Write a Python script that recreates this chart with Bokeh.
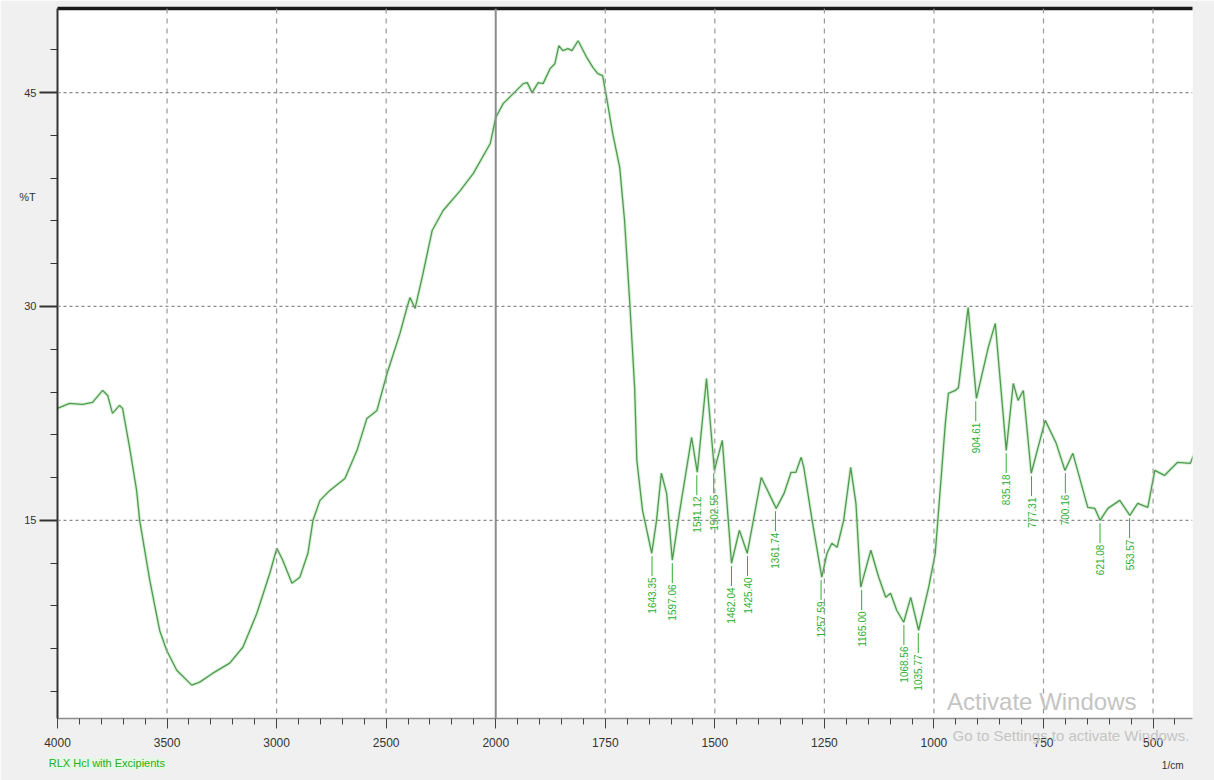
import numpy as np
from bokeh.plotting import figure
from bokeh.models import Range1d, FixedTicker, LinearAxis, Span, Label, ColumnDataSource
from bokeh.core.properties import value
from bokeh.embed import file_html
from bokeh.resources import INLINE

# ---------------- data ----------------
wavenumber = [4000, 3945, 3886, 3840, 3794, 3771, 3749, 3717, 3703, 3671, 3639, 3625, 3579, 3534,
              3502, 3456, 3387, 3351, 3291, 3214, 3154, 3090, 3031, 2999, 2972, 2930, 2894, 2857,
              2834, 2802, 2757, 2688, 2633, 2588, 2542, 2496, 2437, 2405, 2391, 2368, 2332, 2290,
              2240, 2162, 2103, 2025, 2000,
              1983, 1960, 1937, 1928, 1917, 1903, 1892, 1876, 1865, 1856, 1847, 1835, 1826, 1812,
              1792, 1778, 1767, 1756, 1747, 1733, 1717, 1706, 1694, 1683, 1678, 1665, 1644, 1633,
              1622, 1610, 1597, 1581, 1553, 1540, 1519, 1501, 1483, 1462, 1444, 1426, 1394, 1360,
              1342, 1326, 1315, 1303, 1297, 1278, 1256, 1244, 1233, 1221, 1206, 1190, 1178, 1167,
              1144, 1126, 1110, 1099, 1085, 1069, 1053, 1035, 1012, 997, 974, 967, 951, 944, 922,
              903, 876, 860, 835, 819, 808, 796, 778, 746, 721, 701, 683, 649, 633, 621, 603, 576,
              553, 535, 512, 496, 474, 444, 415, 400]
transmittance = [22.85, 23.20, 23.13, 23.27, 24.11, 23.76, 22.50, 23.06, 22.85, 20.12, 17.10, 15.00,
                 10.80, 7.29, 5.89, 4.49, 3.44, 3.65, 4.28, 4.98, 6.10, 8.48, 11.29, 13.04, 12.20,
                 10.59, 11.01, 12.69, 15.00, 16.40, 17.10, 17.94, 19.91, 22.15, 22.71, 25.30, 28.11,
                 29.93, 30.63, 29.86, 32.31, 35.33, 36.73, 38.13, 39.32, 41.43, 43.25,
                 44.23, 44.93, 45.63, 45.70, 45.00, 45.70, 45.63, 46.68, 47.03, 48.29, 47.94, 48.08,
                 47.94, 48.64, 47.45, 46.75, 46.33, 46.19, 44.65, 42.13, 39.74, 36.03, 30.21, 24.32,
                 19.21, 15.70, 12.69, 15.00, 18.30, 16.89, 12.20, 15.49, 20.82, 18.37, 24.95, 18.50,
                 20.61, 11.99, 14.30, 12.69, 18.01, 15.84, 16.89, 18.37, 18.37, 19.42, 18.72, 15.00,
                 11.01, 12.69, 13.39, 13.11, 15.00, 18.72, 16.19, 10.31, 12.90, 11.01, 9.60, 9.88,
                 8.69, 7.85, 9.60, 7.29, 10.31, 12.69, 21.80, 23.90, 24.11, 24.32, 29.93, 23.55,
                 27.13, 28.81, 19.91, 24.60, 23.41, 24.11, 18.30, 22.01, 20.40, 18.50, 19.70, 15.91,
                 15.84, 15.00, 15.84, 16.40, 15.35, 16.19, 15.91, 18.50, 18.15, 19.07, 19.00, 20.12,
                 20.0]

peak_wavenumber = [1643.35, 1597.06, 1541.12, 1502.55, 1462.04, 1425.40, 1361.74, 1257.59, 1165.00,
                   1068.56, 1035.77, 904.61, 835.18, 777.31, 700.16, 621.08, 553.57]
peak_transmittance = [12.69, 12.20, 18.37, 18.50, 11.99, 12.69, 15.84, 11.01, 10.31,
                      7.85, 7.29, 23.55, 19.91, 18.30, 18.50, 15.00, 15.35]
peak_labels = ["%.2f" % w for w in peak_wavenumber]

x_tick_values = [4000, 3500, 3000, 2500, 2000, 1750, 1500, 1250, 1000, 750, 500]
x_tick_labels = ["4000", "3500", "3000", "2500", "2000", "1750", "1500", "1250", "1000", "750", "500"]
y_tick_values = [15, 30, 45]
y_minor_values = [3, 6, 9, 12, 18, 21, 24, 27, 33, 36, 39, 42, 48]

series_name = "RLX Hcl with Excipients"
x_unit = "1/cm"
y_unit = "%T"


# split axis: 4000-2000 at 500 per unit, 2000-400 at 250 per unit
def to_u(w):
    w = np.asarray(w, dtype=float)
    return np.where(w >= 2000, (4000.0 - w) / 500.0, 4.0 + (2000.0 - w) / 250.0)


FONT = "Liberation Sans Narrow, Liberation Sans, Arial, sans-serif"
LINE = "#4f9a4f"
GREEN = "#2fae2f"

p = figure(width=1214, height=780, output_backend="svg", toolbar_location=None,
           x_range=Range1d(0, 10.36), y_range=Range1d(1.1, 50.9),
           min_border_left=57, min_border_right=14, min_border_top=8, min_border_bottom=62,
           x_axis_type=None, y_axis_type=None)
p.border_fill_color = "#f0f0f0"
p.background_fill_color = "white"
p.outline_line_color = None

# bottom axis
xmaj = [float(v) for v in to_u(x_tick_values)]
xminor = [round(v, 2) for v in np.arange(0, 10.37, 0.2) if min(abs(v - m) for m in xmaj) > 1e-6]
xaxis = LinearAxis(ticker=FixedTicker(ticks=xmaj, minor_ticks=xminor))
xaxis.major_label_overrides = {m: t for m, t in zip(xmaj, x_tick_labels)}
xaxis.axis_line_color = "#8a8a8a"
xaxis.axis_line_width = 1.5
xaxis.major_tick_out = 10
xaxis.major_tick_in = 0
xaxis.minor_tick_out = 6
xaxis.minor_tick_in = 0
xaxis.major_tick_line_color = "#444"
xaxis.minor_tick_line_color = "#444"
xaxis.major_label_text_font = FONT
xaxis.major_label_text_font_size = "12px"
xaxis.major_label_text_color = "#333"
xaxis.major_label_standoff = 9
p.add_layout(xaxis, "below")

# left axis
yaxis = LinearAxis(ticker=FixedTicker(ticks=y_tick_values, minor_ticks=y_minor_values))
yaxis.axis_line_color = "#333"
yaxis.axis_line_width = 2
yaxis.major_tick_out = 18
yaxis.major_tick_in = 0
yaxis.minor_tick_out = 7
yaxis.minor_tick_in = 0
yaxis.major_tick_line_width = 2
yaxis.major_tick_line_color = "#333"
yaxis.minor_tick_line_color = "#333"
yaxis.major_label_text_font = FONT
yaxis.major_label_text_font_size = "11px"
yaxis.major_label_text_color = "#333"
yaxis.major_label_standoff = 3
p.add_layout(yaxis, "left")

# top frame line (thick)
top = LinearAxis(ticker=FixedTicker(ticks=[]), axis_line_color="#1a1a1a", axis_line_width=3.5,
                 major_label_text_font_size="0px", major_tick_line_color=None, minor_tick_line_color=None)
p.add_layout(top, "above")

# grids
for m in xmaj:
    if abs(m - 4.0) < 1e-9 or m == 0:
        continue
    p.add_layout(Span(location=m, dimension="height", line_color="#9a9a9a", line_width=1.2,
                      line_dash="5 5"))
for v in y_tick_values:
    p.add_layout(Span(location=v, dimension="width", line_color="#8a8a8a", line_width=1.2,
                      line_dash="3 3"))
p.add_layout(Span(location=4.0, dimension="height", line_color="#8c8c8c", line_width=2))

# spectrum
src = ColumnDataSource(dict(u=to_u(wavenumber), t=transmittance))
p.line("u", "t", source=src, line_color="#bfe8bf", line_width=3.5, line_alpha=0.6)
p.line("u", "t", source=src, line_color=LINE, line_width=1.3)

# peak markers and labels
pu = to_u(peak_wavenumber)
pt = np.asarray(peak_transmittance, dtype=float)
psrc = ColumnDataSource(dict(u=pu, t0=pt - 0.2, t1=pt - 1.6, tl=pt - 1.7, lab=peak_labels))
p.segment(x0="u", y0="t0", x1="u", y1="t1", source=psrc, line_color=GREEN, line_width=1)
p.text(x="u", y="tl", text="lab", source=psrc, angle=np.pi / 2, text_align="right",
       text_baseline="middle", text_font=value(FONT), text_font_size="10px", text_color=GREEN)

# watermark inside the frame
p.add_layout(Label(x=8.12, y=1.35, text="Activate Windows", text_font=FONT,
                   text_font_size="24px", text_color="#c4c4c4", text_baseline="bottom"))

# texts around the frame (placed in the border panels so they are not clipped)
p.add_layout(Label(x=-0.35, y=37.7, text=y_unit, text_font=FONT, text_font_size="11px",
                   text_color="#333", text_baseline="middle"), "left")
p.add_layout(Label(x=10.08, y=-2.2, text=x_unit, text_font=FONT, text_font_size="10px",
                   text_color="#333", text_baseline="middle"), "right")
p.add_layout(Label(x=-0.08, y=-2.05, text=series_name, text_font=FONT, text_font_size="11px",
                   text_color="#22b022", text_baseline="middle", background_fill_color="#e6f7e6"),
             "below")
p.add_layout(Label(x=8.17, y=-0.1, text="Go to Settings to activate Windows.", text_font=FONT,
                   text_font_size="15px", text_color="#c4c4c4", text_baseline="middle"), "below")

open("out.html", "w").write(file_html(p, INLINE))
